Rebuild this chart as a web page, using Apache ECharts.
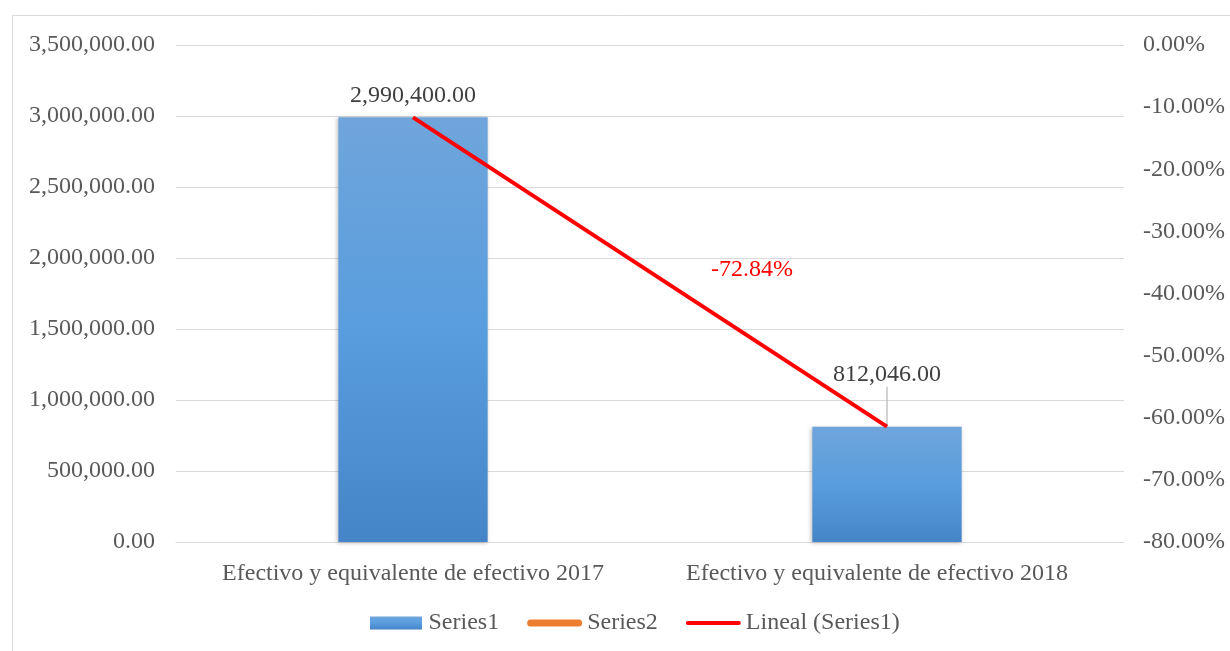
<!DOCTYPE html>
<html><head><meta charset="utf-8">
<script src="https://cdn.jsdelivr.net/npm/echarts@6/dist/echarts.min.js"></script>
<style>html,body{margin:0;padding:0;background:#fff}#c{width:1230px;height:651px}</style>
</head><body><div id="c"></div>
<script>
const categories = ['Efectivo y equivalente de efectivo 2017', 'Efectivo y equivalente de efectivo 2018'];
const series1 = [2990400, 812046];
const series2 = [null, null];
const trendSeries1 = [2990400, 812046];
const changeLabel = '-72.84%';
const leftTicks = [0, 3500000, 500000];
const rightTicks = [-0.8, 0, 0.1];

const FONT = 'Liberation Serif';
const TXT = '#595959';
const FS = 24;
const fmtNum = v => v.toLocaleString('en-US', {minimumFractionDigits: 2, maximumFractionDigits: 2});
const fmtPct = v => (v * 100).toFixed(2) + '%';

const chart = echarts.init(document.getElementById('c'));
chart.setOption({
  animation: false,
  textStyle: {fontFamily: FONT},
  grid: {left: 176, right: 106, top: 45, bottom: 109, containLabel: false},
  legend: {
    top: 606, left: 365,
    itemWidth: 55, itemHeight: 13, itemGap: 28, symbolKeepAspect: true,
    textStyle: {fontFamily: FONT, fontSize: FS, color: TXT},
    data: [
      {name: 'Series1', icon: 'path://M2,0 L54,0 L54,13 L2,13 Z'},
      {name: 'Series2', icon: 'path://M3.5,0 L51.5,0 A3.5,3.5 0 0 1 51.5,7 L3.5,7 A3.5,3.5 0 0 1 3.5,0 Z'},
      {name: 'Lineal (Series1)', icon: 'path://M2,0 L53,0 A2,2 0 0 1 53,4 L2,4 A2,2 0 0 1 2,0 Z'}
    ]
  },
  xAxis: {
    type: 'category', data: categories,
    axisLine: {lineStyle: {color: '#d9d9d9', width: 1}},
    axisTick: {show: false},
    axisLabel: {
      fontFamily: FONT, fontSize: FS, color: TXT, margin: 20, interval: 0,
      formatter: (v, i) => i === 1 ? '{b|' + v + '}' : '{a|' + v + '}',
      rich: {
        a: {fontFamily: FONT, fontSize: FS, color: TXT},
        b: {fontFamily: FONT, fontSize: FS, color: TXT, padding: [0, 20, 0, 0]}
      }
    }
  },
  yAxis: [{
    type: 'value', min: leftTicks[0], max: leftTicks[1], interval: leftTicks[2],
    axisLine: {show: false}, axisTick: {show: false},
    splitLine: {lineStyle: {color: '#d9d9d9', width: 1}},
    axisLabel: {fontFamily: FONT, fontSize: FS, color: TXT, margin: 21, formatter: fmtNum}
  }, {
    type: 'value', min: rightTicks[0], max: rightTicks[1], interval: rightTicks[2],
    axisLine: {show: false}, axisTick: {show: false}, splitLine: {show: false},
    axisLabel: {fontFamily: FONT, fontSize: FS, color: TXT, margin: 19, align: 'left', formatter: fmtPct}
  }],
  series: [{
    name: 'Series1', type: 'bar', barWidth: '31.5%',
    data: series1.map((v, i) => ({value: v, labelLine: {show: i === 1}})),
    itemStyle: {
      color: new echarts.graphic.LinearGradient(0, 0, 0, 1, [
        {offset: 0, color: '#6fa5db'}, {offset: 0.5, color: '#599dde'}, {offset: 1, color: '#4585c7'}
      ]),
      shadowColor: 'rgba(0,0,0,0.25)', shadowBlur: 4, shadowOffsetX: -1, shadowOffsetY: 1
    },
    label: {show: true, position: 'top', distance: 10, fontFamily: FONT, fontSize: FS, color: '#404040', formatter: p => fmtNum(p.value)},
    labelLine: {lineStyle: {color: '#a6a6a6', width: 1}},
    labelLayout: p => p.dataIndex === 1 ? {dy: -30} : {}
  }, {
    name: 'Series2', type: 'line', yAxisIndex: 1, data: series2,
    symbol: 'none', showSymbol: false, itemStyle: {color: '#ed7d31'}, lineStyle: {color: '#ed7d31', width: 7, cap: 'round'}
  }, {
    name: 'Lineal (Series1)', type: 'line', data: trendSeries1,
    symbol: 'none', showSymbol: false, itemStyle: {color: '#ff0000'}, lineStyle: {color: '#ff0000', width: 4},
    z: 5
  }],
  graphic: [
    {type: 'rect', shape: {x: 12.5, y: 15.5, width: 1240, height: 660}, style: {fill: 'none', stroke: '#d9d9d9', lineWidth: 1}, silent: true},
    {type: 'text', x: 752, y: 270, style: {text: changeLabel, fill: '#ff0000', font: FS + 'px "Liberation Serif"', textAlign: 'center', textVerticalAlign: 'middle'}}
  ]
});
</script></body></html>
